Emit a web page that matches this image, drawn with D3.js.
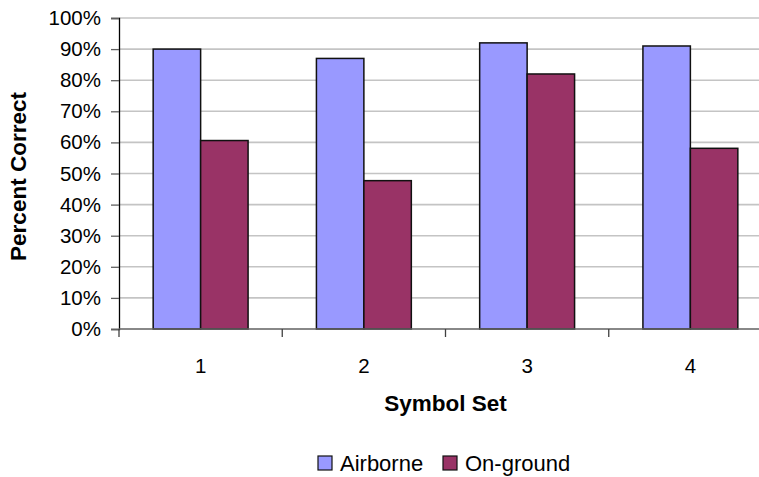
<!DOCTYPE html>
<html>
<head>
<meta charset="utf-8">
<script src="https://cdn.jsdelivr.net/npm/d3@7"></script>
<style>
  html, body { margin: 0; padding: 0; background: #fff; }
  svg { display: block; font-family: "Liberation Sans", Arial, sans-serif; }
</style>
</head>
<body>
<svg id="chart" width="759" height="477"></svg>
<script>
// Percent correct by symbol set, airborne vs on-ground
const categories = ["1", "2", "3", "4"];
const seriesNames = ["Airborne", "On-ground"];
const airborne = [0.90, 0.87, 0.92, 0.91];
const onGround = [0.606, 0.477, 0.82, 0.581];
const yTicks = [0, 0.1, 0.2, 0.3, 0.4, 0.5, 0.6, 0.7, 0.8, 0.9, 1.0];
const colors = ["#9999FF", "#993366"];

const values = [airborne, onGround];
const svg = d3.select("#chart");

const plot = { left: 119, right: 772, top: 18, bottom: 329 };

const x0 = d3.scaleBand().domain(categories).range([plot.left, plot.right]).padding(0);
const x1 = d3.scaleBand().domain(seriesNames).range([0, x0.bandwidth()])
  .paddingInner(0).paddingOuter(0.72);
const y = d3.scaleLinear().domain([0, 1]).range([plot.bottom, plot.top]);

// horizontal gridlines
svg.append("g")
  .selectAll("line")
  .data(yTicks.filter(d => d > 0))
  .join("line")
  .attr("x1", plot.left).attr("x2", plot.right)
  .attr("y1", d => y(d)).attr("y2", d => y(d))
  .attr("stroke", "#c4c4c4").attr("stroke-width", 1.6);

// bars
const groups = svg.append("g")
  .selectAll("g")
  .data(categories)
  .join("g")
  .attr("transform", d => `translate(${x0(d)},0)`);

groups.selectAll("rect")
  .data((c, i) => seriesNames.map((s, j) => ({ s, j, v: values[j][i] })))
  .join("rect")
  .attr("x", d => x1(d.s))
  .attr("width", x1.bandwidth())
  .attr("y", d => y(d.v))
  .attr("height", d => y(0) - y(d.v))
  .attr("fill", d => colors[d.j])
  .attr("stroke", "#111")
  .attr("stroke-width", 1.5);

// y axis
const yAxis = svg.append("g")
  .attr("transform", `translate(${plot.left},0)`)
  .call(d3.axisLeft(y).tickValues(yTicks).tickFormat(d3.format(".0%")).tickSize(8).tickPadding(10));
yAxis.select(".domain").attr("stroke", "#000").attr("stroke-width", 1.3);
yAxis.selectAll(".tick line").attr("stroke", "#606060").attr("stroke-width", 1.3);
yAxis.selectAll("text").attr("font-size", 20.5).attr("fill", "#000")
  .attr("font-family", "'Liberation Sans', Arial, sans-serif");

// x axis: ticks at category boundaries
const xAxisG = svg.append("g").attr("transform", `translate(0,${plot.bottom})`);
xAxisG.append("line")
  .attr("x1", plot.left).attr("x2", plot.right)
  .attr("stroke", "#606060").attr("stroke-width", 1.5);
const boundaries = categories.map(c => x0(c)).concat([x0(categories[categories.length - 1]) + x0.bandwidth()]);
xAxisG.selectAll(".bt")
  .data(boundaries)
  .join("line")
  .attr("class", "bt")
  .attr("x1", d => d).attr("x2", d => d)
  .attr("y1", 0).attr("y2", 8)
  .attr("stroke", "#404040").attr("stroke-width", 1.3);
xAxisG.selectAll("text")
  .data(categories)
  .join("text")
  .attr("x", d => x0(d) + x0.bandwidth() / 2)
  .attr("y", 44)
  .attr("text-anchor", "middle")
  .attr("font-size", 20.5)
  .text(d => d);

// axis titles
svg.append("text")
  .attr("x", (plot.left + plot.right) / 2)
  .attr("y", 411)
  .attr("text-anchor", "middle")
  .attr("font-size", 22.5).attr("font-weight", "bold")
  .text("Symbol Set");

svg.append("text")
  .attr("transform", `translate(26,${(plot.top + plot.bottom) / 2 + 3}) rotate(-90)`)
  .attr("text-anchor", "middle")
  .attr("font-size", 22.5).attr("font-weight", "bold")
  .text("Percent Correct");

// legend
const legend = svg.append("g").attr("transform", "translate(318,456)");
const legendX = [0, 125];
seriesNames.forEach((s, i) => {
  const g = legend.append("g").attr("transform", `translate(${legendX[i]},0)`);
  g.append("rect").attr("width", 14).attr("height", 14)
    .attr("fill", colors[i]).attr("stroke", "#111").attr("stroke-width", 1.2);
  g.append("text").attr("x", 22).attr("y", 15).attr("font-size", 22).text(s);
});
</script>
</body>
</html>
